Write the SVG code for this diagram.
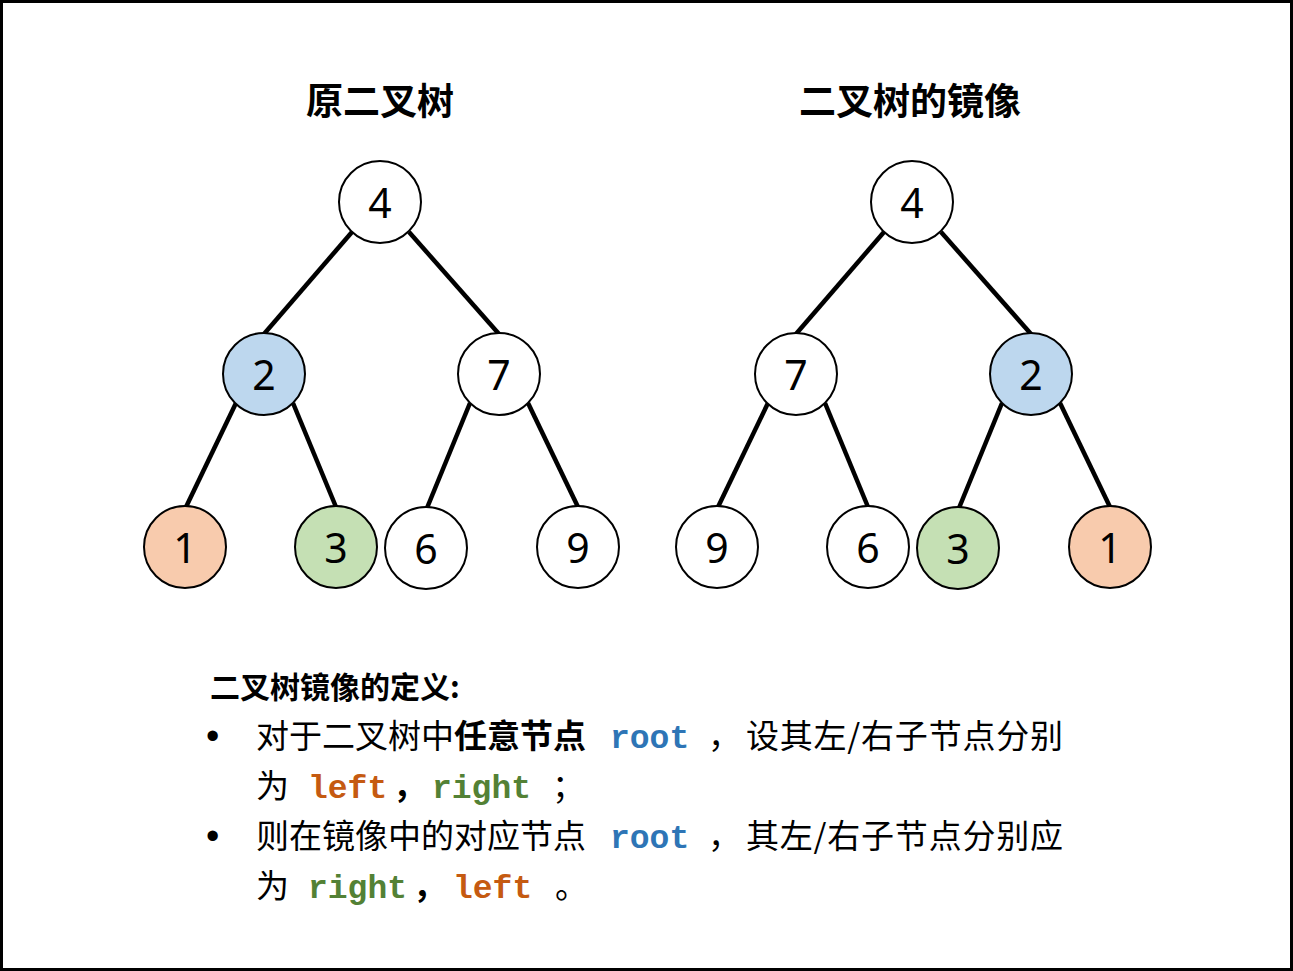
<svg xmlns="http://www.w3.org/2000/svg" width="1293" height="971" viewBox="0 0 1293 971">
<style>
.nd{stroke:#000;stroke-width:2}
.w{fill:#fff}.o{fill:#F8CBAD}.b{fill:#BDD7EE}.g{fill:#C5E0B4}
.num{font-family:"Noto Sans","Liberation Sans",sans-serif;font-size:41px;fill:#000;text-anchor:middle}
.e{stroke:#000;stroke-width:4.5;fill:none}
.ttl{font-family:"Noto Sans CJK SC",sans-serif;font-size:37px;font-weight:bold;text-anchor:middle;fill:#000}
.cn{font-family:"Noto Sans CJK SC",sans-serif;font-size:33px;fill:#000}
.cnb{font-weight:bold}
.bul{font-family:"Liberation Sans",sans-serif;font-size:38px;fill:#000}
.code{font-family:"Liberation Mono",monospace;font-size:33px;font-weight:bold}
.blue{fill:#2E75B6}.org{fill:#C55A11}.grn{fill:#538135}
</style>
<rect x="1.5" y="1.5" width="1290" height="968" fill="#fff" stroke="#000" stroke-width="3"/>
<text class="ttl" x="380" y="115">原二叉树</text>
<text class="ttl" x="910" y="115">二叉树的镜像</text>
<g id="connectors">
<line class="e" x1="352" y1="232" x2="264" y2="334"/>
<line class="e" x1="409" y1="232" x2="499" y2="334"/>
<line class="e" x1="236" y1="403" x2="186" y2="507"/>
<line class="e" x1="293" y1="403" x2="336" y2="507"/>
<line class="e" x1="470" y1="403" x2="427" y2="508"/>
<line class="e" x1="528" y1="403" x2="578" y2="507"/>
<line class="e" x1="884" y1="232" x2="796" y2="334"/>
<line class="e" x1="941" y1="232" x2="1031" y2="334"/>
<line class="e" x1="768" y1="403" x2="718" y2="507"/>
<line class="e" x1="825" y1="403" x2="868" y2="507"/>
<line class="e" x1="1002" y1="403" x2="959" y2="508"/>
<line class="e" x1="1060" y1="403" x2="1110" y2="507"/>
</g>
<g id="L4"><circle class="nd w" cx="380" cy="202" r="41"/><text class="num" x="380" y="218">4</text></g>
<g id="L2"><circle class="nd b" cx="264" cy="374" r="41"/><text class="num" x="264" y="390">2</text></g>
<g id="L7"><circle class="nd w" cx="499" cy="374" r="41"/><text class="num" x="499" y="390">7</text></g>
<g id="L1"><circle class="nd o" cx="185" cy="547" r="41"/><text class="num" x="185" y="563">1</text></g>
<g id="L3"><circle class="nd g" cx="336" cy="547" r="41"/><text class="num" x="336" y="563">3</text></g>
<g id="L6"><circle class="nd w" cx="426" cy="548" r="41"/><text class="num" x="426" y="564">6</text></g>
<g id="L9"><circle class="nd w" cx="578" cy="547" r="41"/><text class="num" x="578" y="563">9</text></g>
<g id="R4"><circle class="nd w" cx="912" cy="202" r="41"/><text class="num" x="912" y="218">4</text></g>
<g id="R7"><circle class="nd w" cx="796" cy="374" r="41"/><text class="num" x="796" y="390">7</text></g>
<g id="R2"><circle class="nd b" cx="1031" cy="374" r="41"/><text class="num" x="1031" y="390">2</text></g>
<g id="R9"><circle class="nd w" cx="717" cy="547" r="41"/><text class="num" x="717" y="563">9</text></g>
<g id="R6"><circle class="nd w" cx="868" cy="547" r="41"/><text class="num" x="868" y="563">6</text></g>
<g id="R3"><circle class="nd g" cx="958" cy="548" r="41"/><text class="num" x="958" y="564">3</text></g>
<g id="R1"><circle class="nd o" cx="1110" cy="547" r="41"/><text class="num" x="1110" y="563">1</text></g>
<g id="definition">
<text class="cn cnb" x="210" y="698" style="font-size:30px">二叉树镜像的定义:</text>
<text class="bul" x="206" y="749">•</text>
<text class="cn" x="256" y="748">对于二叉树中<tspan class="cnb">任意节点</tspan></text>
<text class="code blue" x="610" y="748">root</text>
<text class="cn" x="708" y="748">，</text>
<text class="cn" x="746" y="748" textLength="317" lengthAdjust="spacing">设其左/右子节点分别</text>
<text class="cn" x="256" y="798">为</text>
<text class="code org" x="308" y="798">left</text>
<text class="cn cnb" x="393" y="798">，</text>
<text class="code grn" x="432" y="798">right</text>
<text class="cn" x="552" y="798">；</text>
<text class="bul" x="206" y="849">•</text>
<text class="cn" x="256" y="848">则在镜像中的对应节点</text>
<text class="code blue" x="610" y="848">root</text>
<text class="cn" x="708" y="848">，</text>
<text class="cn" x="746" y="848" textLength="317" lengthAdjust="spacing">其左/右子节点分别应</text>
<text class="cn" x="256" y="898">为</text>
<text class="code grn" x="308" y="898">right</text>
<text class="cn cnb" x="413" y="898">，</text>
<text class="code org" x="453" y="898">left</text>
<text class="cn" x="555" y="898">。</text>
</g>
</svg>
